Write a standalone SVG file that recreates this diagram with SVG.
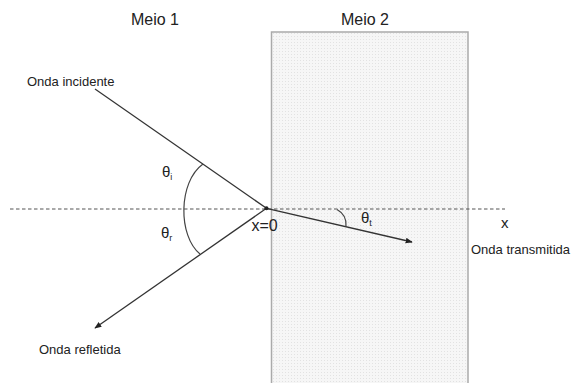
<svg xmlns="http://www.w3.org/2000/svg" width="573" height="383" viewBox="0 0 573 383">
<style>
text{font-family:"Liberation Sans",Arial,sans-serif;fill:#222}
.ray{stroke:#333;stroke-width:1.3;fill:none}
.arc{stroke:#444;stroke-width:1.2;fill:none}
.lbl{font-size:13px}
.hd{font-size:16px}
.th{font-size:15px}
.sub{font-size:9px}
</style>
<defs>
<pattern id="dots" width="3" height="3" patternUnits="userSpaceOnUse">
<rect width="3" height="3" fill="#f6f6f6"/>
<rect width="1" height="1" fill="#e2e2e2"/>
</pattern>
<marker id="ah" viewBox="0 0 10 10" refX="9" refY="5" markerWidth="7" markerHeight="7" markerUnits="userSpaceOnUse" orient="auto">
<path d="M0,1 L10,5 L0,9 Z" fill="#222"/>
</marker>
</defs>
<g id="meio2">
<rect x="271.5" y="32" width="196.5" height="360" fill="url(#dots)" stroke="#aaa" stroke-width="1.5"/>
</g>
<g id="labels">
<text class="hd" x="155" y="25" text-anchor="middle">Meio 1</text>
<text class="hd" x="365" y="25" text-anchor="middle">Meio 2</text>
<text class="lbl" x="27" y="86">Onda incidente</text>
<text class="lbl" x="39" y="354">Onda refletida</text>
<text class="lbl" x="471" y="254">Onda transmitida</text>
<text class="hd" x="251.5" y="230.5">x=0</text>
<text x="501" y="227.5" style="font-size:15px">x</text>
<text class="th" x="162" y="177">θ<tspan class="sub" dy="3">i</tspan></text>
<text class="th" x="161" y="237.5">θ<tspan class="sub" dy="3">r</tspan></text>
<text class="th" x="361" y="223">θ<tspan class="sub" dy="3">t</tspan></text>
</g>
<g id="connectors">
<line x1="10" y1="209" x2="505" y2="209" stroke="#555" stroke-width="1.2" stroke-dasharray="3.5,2.5"/>
<line class="ray" x1="95" y1="89" x2="266.5" y2="208.3"/>
<line class="ray" x1="266.5" y1="208.3" x2="95" y2="328" marker-end="url(#ah)"/>
<line class="ray" x1="266.5" y1="208.3" x2="412" y2="242" marker-end="url(#ah)"/>
<circle cx="266.5" cy="208.3" r="2" fill="#222"/>
<path class="arc" d="M203,164 C178,182 178,236 200,254"/>
<path class="arc" d="M337,209.5 Q347,215 346,226.5"/>
</g>
</svg>
